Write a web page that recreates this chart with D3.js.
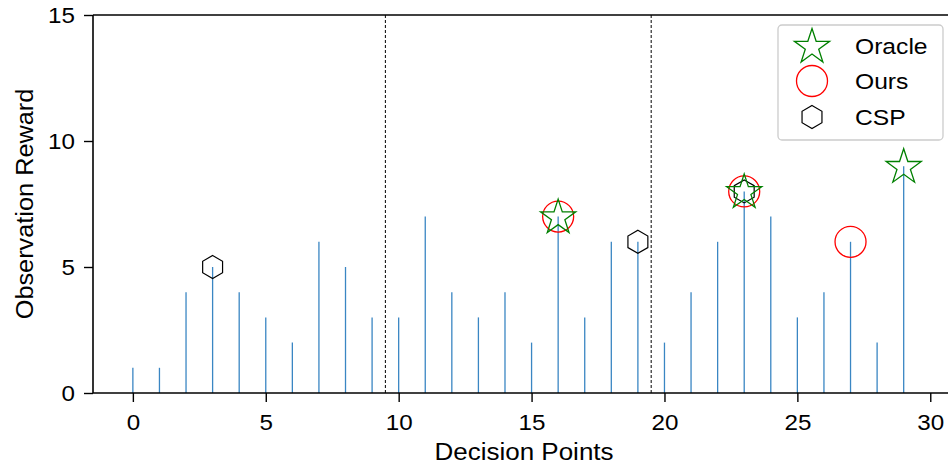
<!DOCTYPE html>
<html><head><meta charset="utf-8">
<script src="https://cdn.jsdelivr.net/npm/d3@7"></script>
<style>body{margin:0;background:#fff}svg{display:block;font-family:"Liberation Sans",Arial,sans-serif}</style>
</head><body><svg id="c" width="948" height="466"></svg>
<script>
const decisionPoints = d3.range(0, 30);
const rewards = [1,1,4,5,4,3,2,6,5,3, 3,7,4,3,4,2,7,3,6,6, 2,4,6,8,7,3,4,6,2,9];
const oracleX = [16, 23, 29];
const oursX = [16, 23, 27];
const cspX = [3, 19, 23];
const segmentBounds = [9.5, 19.5];
const xTicks = [0,5,10,15,20,25,30];
const yTicks = [0,5,10,15];
const legendLabels = ["Oracle","Ours","CSP"];

(function(){
const svg = d3.select("#c");
const mLeft = 93, mTop = 15, mBottom = 393, mRight = 948;
const x = d3.scaleLinear().domain([-1.5, 31]).range([mLeft, mLeft + 32.5*26.58]);
const y = d3.scaleLinear().domain([0, 15]).range([mBottom, mTop]);

function stretch(sel, k) {
  sel.each(function(){
    const L = this.getComputedTextLength();
    this.setAttribute("textLength", L * k);
    this.setAttribute("lengthAdjust", "spacingAndGlyphs");
  });
}

svg.append("g").selectAll("line").data(decisionPoints).join("line")
  .attr("x1", d => x(d)).attr("x2", d => x(d))
  .attr("y1", y(0)).attr("y2", d => y(rewards[d]))
  .attr("stroke", "#3a86c3").attr("stroke-width", 1.3);

svg.append("g").selectAll("line").data(segmentBounds).join("line")
  .attr("x1", d => x(d)).attr("x2", d => x(d))
  .attr("y1", y(15)).attr("y2", y(0))
  .attr("stroke", "#000").attr("stroke-width", 1).attr("stroke-dasharray", "3,2");

const xAxis = d3.axisBottom(x).tickValues(xTicks).tickSize(9).tickPadding(8);
const yAxis = d3.axisLeft(y).tickValues(yTicks).tickSize(9).tickPadding(9);
const gx = svg.append("g").attr("transform", `translate(0,${mBottom})`).call(xAxis);
const gy = svg.append("g").attr("transform", `translate(${mLeft},0)`).call(yAxis);
[gx, gy].forEach(g => {
  g.select(".domain").remove();
  g.selectAll("line").attr("stroke", "#000").attr("stroke-width", 1.4);
  g.selectAll("text").attr("font-size", 22).attr("fill", "#000").attr("font-family", "Liberation Sans, Arial, sans-serif");
  stretch(g.selectAll("text"), 1.1);
});
gx.selectAll("text").attr("dy", "0.9em");
svg.append("line").attr("x1", mLeft).attr("x2", mRight).attr("y1", mBottom).attr("y2", mBottom).attr("stroke", "#000").attr("stroke-width", 1.6);
svg.append("line").attr("x1", mLeft).attr("x2", mRight).attr("y1", mTop).attr("y2", mTop).attr("stroke", "#000").attr("stroke-width", 1.6);
svg.append("line").attr("x1", mLeft).attr("x2", mLeft).attr("y1", mTop).attr("y2", mBottom).attr("stroke", "#000").attr("stroke-width", 1.6);

const xl = svg.append("text").attr("x", 524).attr("y", 460).attr("text-anchor", "middle")
  .attr("font-size", 23).text("Decision Points");
stretch(xl, 1.13);
const yl = svg.append("text").attr("transform", `translate(33,${(mTop+mBottom)/2}) rotate(-90)`)
  .attr("text-anchor", "middle").attr("font-size", 23).text("Observation Reward");
stretch(yl, 1.1);

function starPath(R) {
  const r = R * 0.381966, pts = [];
  for (let i = 0; i < 10; i++) {
    const a = -Math.PI/2 + i * Math.PI/5, rr = i % 2 ? r : R;
    pts.push([rr*Math.cos(a), rr*Math.sin(a)]);
  }
  return "M" + pts.map(p => p.join(",")).join("L") + "Z";
}
function hexPath(R) {
  const pts = [];
  for (let i = 0; i < 6; i++) {
    const a = -Math.PI/2 + i * Math.PI/3;
    pts.push([R*Math.cos(a), R*Math.sin(a)]);
  }
  return "M" + pts.map(p => p.join(",")).join("L") + "Z";
}

svg.append("g").selectAll("path").data(cspX).join("path")
  .attr("transform", d => `translate(${x(d)},${y(rewards[d])})`)
  .attr("d", hexPath(11.5)).attr("fill", "none").attr("stroke", "#000").attr("stroke-width", 1.2);
svg.append("g").selectAll("circle").data(oursX).join("circle")
  .attr("cx", d => x(d)).attr("cy", d => y(rewards[d])).attr("r", 15.5)
  .attr("fill", "none").attr("stroke", "red").attr("stroke-width", 1.3);
svg.append("g").selectAll("path").data(oracleX).join("path")
  .attr("transform", d => `translate(${x(d)},${y(rewards[d])+1})`)
  .attr("d", starPath(18.5)).attr("fill", "none").attr("stroke", "green").attr("stroke-width", 1.3);

const lg = svg.append("g").attr("transform", "translate(778,25)");
lg.append("rect").attr("width", 165).attr("height", 115).attr("rx", 4)
  .attr("fill", "#fff").attr("stroke", "#ccc").attr("stroke-width", 1.3);
const ly = [21, 56, 92];
lg.append("path").attr("transform", `translate(34,${ly[0]+1})`).attr("d", starPath(18.5))
  .attr("fill", "none").attr("stroke", "green").attr("stroke-width", 1.3);
lg.append("circle").attr("cx", 34).attr("cy", ly[1]).attr("r", 15.5)
  .attr("fill", "none").attr("stroke", "red").attr("stroke-width", 1.3);
lg.append("path").attr("transform", `translate(34,${ly[2]})`).attr("d", hexPath(11.5))
  .attr("fill", "none").attr("stroke", "#000").attr("stroke-width", 1.2);
const lt = lg.selectAll("text").data(legendLabels).join("text")
  .attr("x", 77).attr("y", (d, i) => ly[i]).attr("dy", "0.36em")
  .attr("font-size", 22).text(d => d);
stretch(lt, 1.12);
})();
</script></body></html>
